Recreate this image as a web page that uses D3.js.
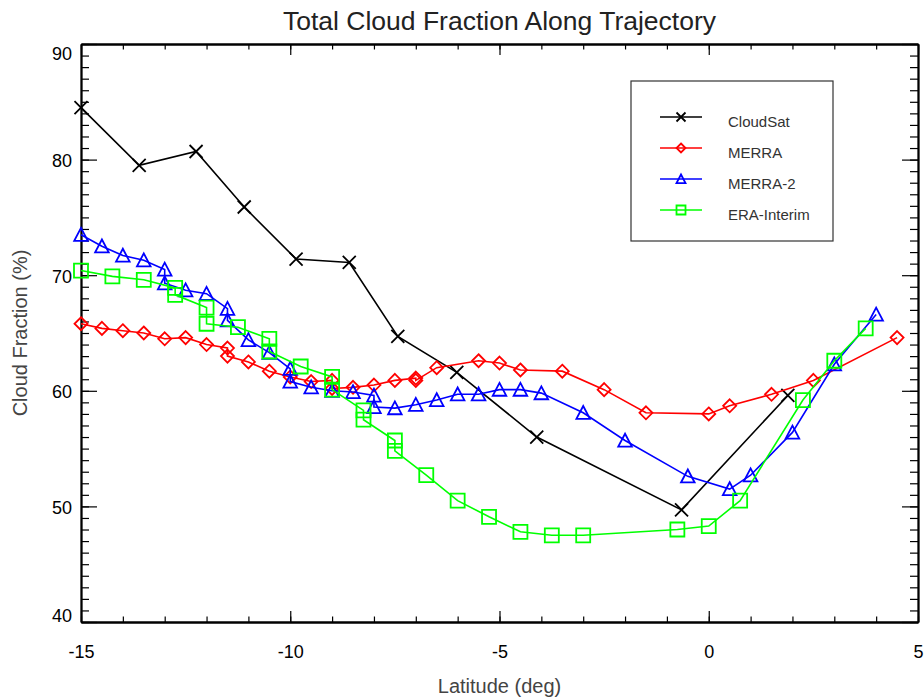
<!DOCTYPE html>
<html>
<head>
<meta charset="utf-8">
<script src="https://cdn.jsdelivr.net/npm/d3@7"></script>
<style>
  body { margin: 0; background: #fff; }
  text { font-family: "Liberation Sans", Arial, Helvetica, sans-serif; }
</style>
</head>
<body>
<script>
// --- data (latitude, cloud fraction %) ---
var cloudsatLat = [-15, -13.61, -12.25, -11.1, -9.86, -8.59, -7.43, -6.02, -4.11, -0.65, 1.89]
var cloudsatVal = [84.5, 79.5, 80.7, 75.9, 71.4, 71.1, 64.7, 61.6, 56.0, 49.7, 59.6]

var merraLat = [-15, -14.5, -14, -13.5, -13, -12.5, -12, -11.5, -11.5, -11, -10.5, -10, -9.5, -9, -9, -8.5, -8, -7.5, -7, -7, -6.5, -5.5, -5, -4.5, -3.5, -2.5, -1.5, 0, 0.5, 1.5, 2.5, 4.5]
var merraVal = [65.8, 65.4, 65.2, 65.0, 64.5, 64.6, 64.0, 63.7, 63.0, 62.5, 61.7, 61.2, 60.8, 60.9, 60.2, 60.3, 60.5, 60.9, 61.1, 60.9, 62.0, 62.6, 62.4, 61.8, 61.7, 60.1, 58.1, 58.0, 58.7, 59.7, 60.9, 64.6]

var merra2Lat = [-15, -14.5, -14, -13.5, -13, -13, -12.5, -12, -11.5, -11.5, -11, -10.5, -10, -10, -9.5, -9, -8.5, -8, -8, -7.5, -7, -6.5, -6, -5.5, -5, -4.5, -4, -3, -2, -0.5, 0.5, 1, 2, 3, 4]
var merra2Val = [73.5, 72.5, 71.7, 71.3, 70.5, 69.3, 68.7, 68.4, 67.1, 66.1, 64.4, 63.3, 61.9, 60.8, 60.3, 60.0, 59.9, 59.6, 58.6, 58.5, 58.8, 59.2, 59.7, 59.7, 60.1, 60.1, 59.8, 58.1, 55.7, 52.6, 51.5, 52.7, 56.4, 62.3, 66.6]

var eraLat = [-15, -14.25, -13.5, -12.75, -12.75, -12, -12, -11.25, -10.5, -10.5, -9.75, -9, -9, -8.25, -8.25, -7.5, -7.5, -6.75, -6, -5.25, -4.5, -3.75, -3, -0.75, 0, 0.75, 2.25, 3, 3.75]
var eraVal = [70.4, 69.9, 69.6, 68.9, 68.3, 67.2, 65.8, 65.5, 64.5, 63.4, 62.1, 61.2, 60.1, 58.3, 57.5, 55.7, 54.8, 52.7, 50.5, 49.1, 47.8, 47.5, 47.5, 48.0, 48.3, 50.5, 59.2, 62.6, 65.4]

var seriesNames = ['CloudSat', 'MERRA', 'MERRA-2', 'ERA-Interim']
var seriesColors = ['#000000', '#ff0000', '#0000ff', '#00ff00']
var seriesShapes = ['x', 'diamond', 'triangle', 'square']

var xTicks = [-15, -10, -5, 0, 5]
var yTicks = [40, 50, 60, 70, 80, 90]

var width = 924, height = 698
var pLeft = 81, pRight = 918, pTop = 44, pBottom = 622

var svg = d3.select('body').append('svg').attr('width', width).attr('height', height)
svg.append('rect').attr('width', width).attr('height', height).attr('fill', '#fff')

var x = d3.scaleLinear().domain([-15, 5]).range([pLeft, pRight])
var y = d3.scaleLinear().domain([40, 90]).range([pBottom, pTop])

// marker shapes, s = half size
function marker(shape, s) {
    if (shape == 'x') return `M${-s},${-s}L${s},${s}M${-s},${s}L${s},${-s}`
    if (shape == 'diamond') return `M0,${-s}L${s},0L0,${s}L${-s},0Z`
    if (shape == 'triangle') return `M0,${-s}L${s},${s * 0.9}L${-s},${s * 0.9}Z`
    return `M${-s},${-s}L${s},${-s}L${s},${s}L${-s},${s}Z`
}
var markerSize = {x: 6.5, diamond: 6.5, triangle: 6.8, square: 7}

// --- axes (IDL style: ticks inward on all 4 sides) ---
var xMinor = d3.range(-15, 5.01, 1)
var yMinor = d3.range(40, 90.01, 1)
var fmt = d => String(d)

function drawAxis(axis, tx, ty) {
    var g = svg.append('g').attr('transform', `translate(${tx},${ty})`).call(axis)
    g.selectAll('.domain').attr('stroke', '#000').attr('stroke-width', 1.8)
    g.selectAll('.tick line').attr('stroke', '#000').attr('stroke-width', 1.2)
    return g
}

drawAxis(d3.axisBottom(x).tickValues(xMinor).tickSize(-5.5).tickSizeOuter(0).tickFormat(''), 0, pBottom)
var xb = drawAxis(d3.axisBottom(x).tickValues(xTicks).tickSize(-11).tickSizeOuter(0).tickPadding(23).tickFormat(fmt), 0, pBottom)
xb.selectAll('text').style('font-size', '18px').attr('fill', '#000')
drawAxis(d3.axisTop(x).tickValues(xMinor).tickSize(-5.5).tickSizeOuter(0).tickFormat(''), 0, pTop)
drawAxis(d3.axisTop(x).tickValues(xTicks).tickSize(-11).tickSizeOuter(0).tickFormat(''), 0, pTop)

drawAxis(d3.axisLeft(y).tickValues(yMinor).tickSize(-8).tickSizeOuter(0).tickFormat(''), pLeft, 0)
var yl = drawAxis(d3.axisLeft(y).tickValues(yTicks).tickSize(-16).tickSizeOuter(0).tickPadding(9).tickFormat(fmt), pLeft, 0)
yl.selectAll('text').style('font-size', '18px').attr('fill', '#000')
    .attr('dy', function(d) { return d == 90 ? '0.85em' : (d == 40 ? '-0.05em' : '0.38em') })
drawAxis(d3.axisRight(y).tickValues(yMinor).tickSize(-8).tickSizeOuter(0).tickFormat(''), pRight, 0)
drawAxis(d3.axisRight(y).tickValues(yTicks).tickSize(-16).tickSizeOuter(0).tickFormat(''), pRight, 0)

// --- titles ---
svg.append('text').attr('x', (pLeft + pRight) / 2).attr('y', 30).attr('text-anchor', 'middle')
    .style('font-size', '26.5px').attr('fill', '#222').text('Total Cloud Fraction Along Trajectory')
svg.append('text').attr('x', (pLeft + pRight) / 2).attr('y', 693).attr('text-anchor', 'middle')
    .style('font-size', '20px').attr('fill', '#444').text('Latitude (deg)')
svg.append('text').attr('transform', `translate(27,${(pTop + pBottom) / 2}) rotate(-90)`).attr('text-anchor', 'middle')
    .style('font-size', '20px').attr('fill', '#444').text('Cloud Fraction (%)')

// --- series ---
var allSeries = [
    d3.zip(cloudsatLat, cloudsatVal),
    d3.zip(merraLat, merraVal),
    d3.zip(merra2Lat, merra2Val),
    d3.zip(eraLat, eraVal)
]
var line = d3.line().x(d => x(d[0])).y(d => y(d[1]))

allSeries.forEach(function(pts, i) {
    var g = svg.append('g')
    g.append('path').attr('d', line(pts)).attr('fill', 'none')
        .attr('stroke', seriesColors[i]).attr('stroke-width', 1.6)
    g.selectAll('path.m').data(pts).enter().append('path').attr('class', 'm')
        .attr('transform', d => `translate(${x(d[0])},${y(d[1])})`)
        .attr('d', marker(seriesShapes[i], markerSize[seriesShapes[i]]))
        .attr('fill', 'none').attr('stroke', seriesColors[i]).attr('stroke-width', 1.8)
})

// --- legend ---
var lg = svg.append('g').attr('transform', 'translate(631,81)')
lg.append('rect').attr('width', 202).attr('height', 160).attr('fill', '#fff')
    .attr('stroke', '#333').attr('stroke-width', 1.2)
seriesNames.forEach(function(name, i) {
    var ry = 36 + i * 31
    lg.append('line').attr('x1', 29).attr('x2', 71).attr('y1', ry).attr('y2', ry)
        .attr('stroke', seriesColors[i]).attr('stroke-width', 1.6)
    lg.append('path').attr('transform', `translate(50,${ry})`)
        .attr('d', marker(seriesShapes[i], 4.5))
        .attr('fill', 'none').attr('stroke', seriesColors[i]).attr('stroke-width', 1.8)
    lg.append('text').attr('x', 97).attr('y', ry + 10).style('font-size', '15px')
        .attr('fill', '#333').text(name)
})
</script>
</body>
</html>
